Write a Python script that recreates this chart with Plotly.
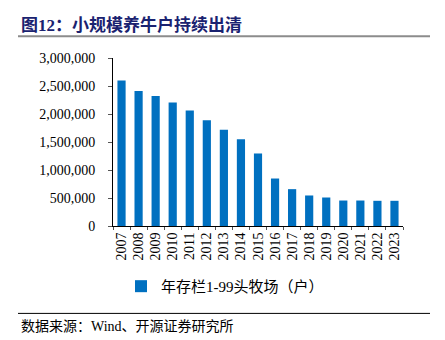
import plotly.graph_objects as go

years = ["2007", "2008", "2009", "2010", "2011", "2012", "2013", "2014", "2015",
         "2016", "2017", "2018", "2019", "2020", "2021", "2022", "2023"]
farms = [2600000, 2410000, 2320000, 2205000, 2063000, 1890000, 1717000, 1550000, 1295000,
         848000, 658000, 545000, 509000, 455000, 455000, 450000, 450000]
y_ticks = [0, 500000, 1000000, 1500000, 2000000, 2500000, 3000000]
y_tick_text = ["0", "500,000", "1,000,000", "1,500,000", "2,000,000", "2,500,000", "3,000,000"]

W, H = 445, 340
L, R, T, B = 113, 403, 58.3, 226.5

def px(x):
    return (x - L) / (R - L)

def py(y):
    return (B - y) / (B - T)

serif = "Times New Roman, Liberation Serif, Noto Sans CJK SC"

fig = go.Figure()
fig.add_trace(go.Bar(
    x=years, y=farms, name="年存栏1-99头牧场（户）",
    marker=dict(color="#0070C0", line=dict(width=0)),
    showlegend=True,
))

fig.update_layout(
    width=W, height=H,
    margin=dict(l=L, r=W - R, t=T, b=H - B),
    plot_bgcolor="white", paper_bgcolor="white",
    bargap=0.52,
    font=dict(family=serif, size=14, color="#000"),
    xaxis=dict(
        type="category", showgrid=False, showline=True, linecolor="#000", linewidth=1,
        ticks="outside", tickson="boundaries", ticklen=3, tickcolor="#555",
        tickangle=-90, tickfont=dict(family=serif, size=14, color="#000"),
    ),
    yaxis=dict(
        range=[0, 3000000], showgrid=False, showline=True, linecolor="#000", linewidth=1,
        ticks="outside", ticklen=4, tickcolor="#555",
        tickvals=y_ticks, ticktext=y_tick_text, ticklabelstandoff=10,
        tickfont=dict(family=serif, size=14, color="#000"),
        zeroline=False,
    ),
    legend=dict(
        orientation="h", x=px(121), y=py(287), xanchor="left", yanchor="middle",
        font=dict(family=serif, size=15, color="#000"),
        itemwidth=30, itemsizing="constant", bgcolor="rgba(0,0,0,0)",
    ),
    showlegend=True,
)

fig.add_annotation(
    text="<b>图12：小规模养牛户持续出清</b>", xref="paper", yref="paper",
    x=px(19), y=py(25), xanchor="left", yanchor="middle", showarrow=False,
    font=dict(family=serif, size=17, color="#1A2270"),
)
fig.add_shape(type="line", xref="paper", yref="paper",
              x0=px(18), x1=px(430), y0=py(36.5), y1=py(36.5),
              line=dict(color="#8C8C8C", width=2))
fig.add_shape(type="line", xref="paper", yref="paper",
              x0=px(18), x1=px(430), y0=py(314), y1=py(314),
              line=dict(color="#000", width=1))
fig.add_annotation(
    text="数据来源：Wind、开源证券研究所", xref="paper", yref="paper",
    x=px(19), y=py(327), xanchor="left", yanchor="middle", showarrow=False,
    font=dict(family=serif, size=14, color="#000"),
)

fig.write_html("out.html")
